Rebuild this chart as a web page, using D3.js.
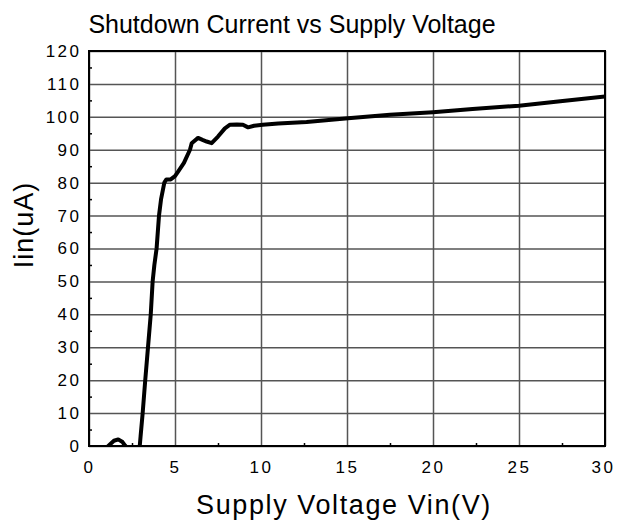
<!DOCTYPE html>
<html>
<head>
<meta charset="utf-8">
<script src="https://cdn.jsdelivr.net/npm/d3@7"></script>
<style>
  body { margin: 0; background: #fff; }
  text { font-family: "Liberation Sans", Arial, sans-serif; fill: #000; }
</style>
</head>
<body>
<div id="chart"></div>
<script>
// curve: supply voltage (V) and input current (uA)
var vin = [1.0, 1.2, 1.45, 1.7, 1.95, 2.1, 2.3, 2.8, 2.95, 3.0, 3.12, 3.27, 3.43, 3.59, 3.7, 3.8,
           3.93, 4.07, 4.19, 4.38, 4.5, 4.75, 5.0, 5.2, 5.52, 5.87, 5.97, 6.34, 6.6, 6.84, 7.13,
           7.5, 7.9, 8.2, 8.6, 8.95, 9.25, 9.6, 10.1, 11, 12.65, 15.06, 17.5, 20, 22.3, 25, 27.4, 30];
var iin = [-0.6, 0.4, 1.6, 2.0, 1.2, 0.1, -1, -1, 0, 3, 10, 20, 30, 40, 50, 55,
           60, 70, 75, 80, 81, 81, 82, 83.5, 86, 90, 92, 93.6, 93, 92.5, 92,
           94, 96.5, 97.6, 97.7, 97.6, 96.8, 97.3, 97.6, 98.0, 98.4, 99.6, 100.6, 101.4, 102.4, 103.4, 104.7, 106.2];

var xTicks = [0, 5, 10, 15, 20, 25, 30];
var xMinor = [2.5, 7.5, 12.5, 17.5, 22.5, 27.5];
var yTicks = [0, 10, 20, 30, 40, 50, 60, 70, 80, 90, 100, 110, 120];
var yMinor = [5, 15, 25, 35, 45, 55, 65, 75, 85, 95, 105, 115];

var svgWidth = 617, svgHeight = 527;
var margin = {top: 51, right: 12, bottom: 81, left: 89};
var width = svgWidth - margin.left - margin.right;
var height = svgHeight - margin.top - margin.bottom;
var tickSpacing = 2.5;

var svg = d3.select("#chart").append("svg")
    .attr("width", svgWidth)
    .attr("height", svgHeight);

var g = svg.append("g")
    .attr("transform", `translate(${margin.left}, ${margin.top})`);

var xScale = d3.scaleLinear().domain([0, 30]).range([0, width]);
var yScale = d3.scaleLinear().domain([0, 120]).range([height, 0]);

// grid + labels
var xAxis = g.append("g")
    .attr("transform", `translate(0, ${height})`)
    .call(d3.axisBottom(xScale).tickValues(xTicks).tickSizeInner(-height).tickSizeOuter(0).tickPadding(15));
var yAxis = g.append("g")
    .call(d3.axisLeft(yScale).tickValues(yTicks).tickSizeInner(-width).tickSizeOuter(0).tickPadding(10));

[xAxis, yAxis].forEach(function(a) {
  a.select(".domain").remove();
  a.selectAll(".tick line").attr("stroke", "#555").attr("stroke-width", 1.5);
  a.selectAll(".tick text")
    .style("font-size", "17px")
    .style("letter-spacing", tickSpacing + "px");
});
// letter-spacing leaves a trailing gap on the right-aligned labels
yAxis.selectAll(".tick text").attr("dx", tickSpacing);
xAxis.selectAll(".tick text").filter(d => d === 30).attr("dx", -2);

// minor ticks, pointing inward
g.append("g")
    .attr("transform", `translate(0, ${height})`)
    .call(d3.axisBottom(xScale).tickValues(xMinor).tickSize(-3).tickFormat(""))
    .call(a => a.select(".domain").remove())
    .selectAll("line").attr("stroke", "#000").attr("stroke-width", 1.5);
g.append("g")
    .call(d3.axisLeft(yScale).tickValues(yMinor).tickSize(-3).tickFormat(""))
    .call(a => a.select(".domain").remove())
    .selectAll("line").attr("stroke", "#000").attr("stroke-width", 1.5);

g.append("clipPath").attr("id", "plotclip")
  .append("rect").attr("width", width).attr("height", height);

var line = d3.line()
    .x(function(d, i) { return xScale(vin[i]); })
    .y(function(d) { return yScale(d); });

g.append("path")
    .datum(iin)
    .attr("clip-path", "url(#plotclip)")
    .attr("fill", "none")
    .attr("stroke", "#000")
    .attr("stroke-width", 4)
    .attr("stroke-linejoin", "round")
    .attr("d", line);

// frame
g.append("rect")
    .attr("width", width).attr("height", height)
    .attr("fill", "none").attr("stroke", "#000").attr("stroke-width", 2);

svg.append("text")
    .attr("x", 292).attr("y", 33)
    .attr("text-anchor", "middle")
    .style("font-size", "25px")
    .text("Shutdown Current vs Supply Voltage");

svg.append("text")
    .attr("x", 344).attr("y", 514)
    .attr("text-anchor", "middle")
    .style("font-size", "27px")
    .style("letter-spacing", "1.6px")
    .text("Supply Voltage Vin(V)");

svg.append("text")
    .attr("transform", "translate(33, 225) rotate(-90)")
    .attr("text-anchor", "middle")
    .style("font-size", "27px")
    .style("letter-spacing", "1px")
    .text("Iin(uA)");
</script>
</body>
</html>
